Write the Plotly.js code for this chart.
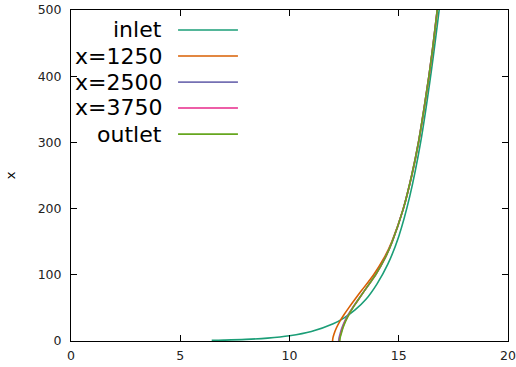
<!DOCTYPE html>
<html>
<head>
<meta charset="utf-8">
<script src="https://cdn.plot.ly/plotly-3.0.1.min.js"></script>
<style>html,body{margin:0;padding:0;background:#fff;}#chart{width:516px;height:367px;}</style>
</head>
<body>
<div id="chart"></div>
<script>
// Series names and colours
const seriesNames = ["inlet", "x=1250", "x=2500", "x=3750", "outlet"];
const seriesColors = ["#1b9e77", "#d95f02", "#7570b3", "#e7298a", "#66a61e"];

// inlet curve (x, y)
const inletX = [6.44, 7, 8, 9, 10, 11, 12, 12.5, 13, 13.5, 14, 14.5, 15, 15.5, 16, 16.5, 16.85];
const inletY = [0.9, 1.3, 2.4, 4.4, 8, 14.4, 26, 35, 47, 63, 86, 116, 158, 218, 300, 410, 500];

// downstream curves: x position read at each y level
const levelsY = [0, 5, 10, 20, 30, 40, 50, 60, 75, 90, 100, 125, 150, 200, 250, 300, 350, 400, 450, 500];
const x1250X  = [11.97, 11.99, 12.03, 12.15, 12.31, 12.50, 12.71, 12.93, 13.27, 13.62, 13.85, 14.32, 14.68, 15.21, 15.60, 15.91, 16.16, 16.39, 16.59, 16.77];
const x2500X  = [12.25, 12.27, 12.31, 12.40, 12.53, 12.69, 12.88, 13.09, 13.41, 13.73, 13.94, 14.37, 14.70, 15.21, 15.59, 15.90, 16.15, 16.38, 16.58, 16.76];
const x3750X  = [12.28, 12.30, 12.34, 12.43, 12.55, 12.71, 12.89, 13.10, 13.41, 13.73, 13.94, 14.37, 14.70, 15.21, 15.59, 15.90, 16.15, 16.38, 16.58, 16.76];
const outletX = [12.30, 12.32, 12.36, 12.45, 12.57, 12.72, 12.90, 13.10, 13.41, 13.73, 13.94, 14.37, 14.70, 15.21, 15.59, 15.90, 16.15, 16.38, 16.58, 16.76];

const seriesX = [inletX, x1250X, x2500X, x3750X, outletX];
const seriesY = [inletY, levelsY, levelsY, levelsY, levelsY];

const traces = seriesNames.map((n, i) => ({
  x: seriesX[i], y: seriesY[i], name: n, type: "scatter", mode: "lines",
  line: {color: seriesColors[i], width: 1.6, shape: "spline", smoothing: 1},
  showlegend: false, hoverinfo: "skip"
}));

// custom gnuplot-style legend (text right, sample line to its right)
const legRowY = [0.9396, 0.861, 0.782, 0.704, 0.625];
const annotations = seriesNames.map((n, i) => ({
  xref: "paper", yref: "paper", x: 0.212, y: legRowY[i], xanchor: "right", yanchor: "middle",
  text: n, showarrow: false, font: {family: "DejaVu Sans", size: 22, color: "#000"}
}));
const shapes = seriesNames.map((n, i) => ({
  type: "line", xref: "paper", yref: "paper", x0: 0.245, x1: 0.382, y0: legRowY[i], y1: legRowY[i],
  line: {color: seriesColors[i], width: 1.6}
}));

const axisCommon = {
  showgrid: false, zeroline: false, showline: true, linecolor: "#000", linewidth: 1,
  mirror: "ticks", ticks: "inside", ticklen: 6, tickwidth: 1, tickcolor: "#000",
  tickfont: {family: "DejaVu Sans", size: 12.5, color: "#222"}
};

const layout = {
  width: 516, height: 367,
  margin: {l: 71, r: 8, t: 10, b: 26},
  paper_bgcolor: "#fff", plot_bgcolor: "#fff",
  xaxis: Object.assign({}, axisCommon, {range: [0, 20], tickvals: [0, 5, 10, 15, 20], ticklabelstandoff: 3}),
  yaxis: Object.assign({}, axisCommon, {range: [0, 500], tickvals: [0, 100, 200, 300, 400, 500], ticklabelstandoff: 6,
    title: {text: "x", standoff: 19, font: {family: "DejaVu Sans", size: 13, color: "#000"}}}),
  annotations: annotations,
  shapes: shapes,
  showlegend: false
};

Plotly.newPlot("chart", traces, layout, {displayModeBar: false, staticPlot: true});
</script>
</body>
</html>
